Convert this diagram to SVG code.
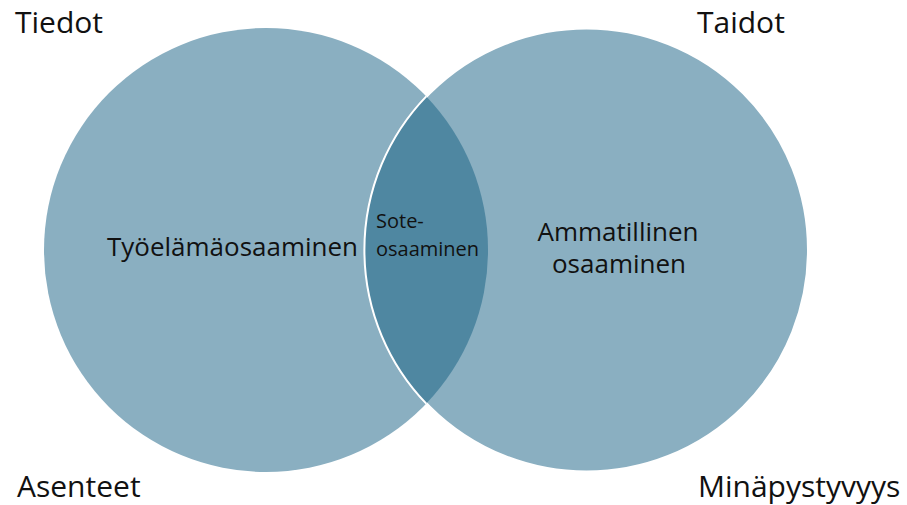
<svg xmlns="http://www.w3.org/2000/svg" width="907" height="505" viewBox="0 0 907 505">
<style>
.circ{fill:#8AAFC1}
.lens{fill:#4F87A1}
.t{font-family:"Open Sans","Liberation Sans",sans-serif;fill:#111}
.corner{font-size:30px}
.big{font-size:26px}
.small{font-size:20px}
</style>
<rect width="907" height="505" fill="#ffffff"/>
<g id="circle-tyoelama">
<circle class="circ" cx="266" cy="250" r="222"/>
</g>
<g id="circle-ammatillinen">
<circle class="circ" cx="586.5" cy="250" r="221.5" stroke="#ffffff" stroke-width="2"/>
</g>
<g id="overlap-sote">
<path class="lens" d="M426.3 96.4 A222 222 0 0 1 426.3 403.6 A221.5 221.5 0 0 1 426.3 96.4 Z"/>
<path d="M426.3 403.6 A221.5 221.5 0 0 1 426.3 96.4" fill="none" stroke="#ffffff" stroke-width="2"/>
</g>
<g id="label-tyoelama">
<text class="t big" x="107" y="256" textLength="251" lengthAdjust="spacingAndGlyphs">Työelämäosaaminen</text>
</g>
<g id="label-ammatillinen">
<text class="t big" x="618" y="241" text-anchor="middle">Ammatillinen</text>
<text class="t big" x="619" y="273" text-anchor="middle">osaaminen</text>
</g>
<g id="label-sote">
<text class="t small" x="376" y="228">Sote-</text>
<text class="t small" x="376" y="256">osaaminen</text>
</g>
<g id="corner-labels">
<text class="t corner" x="15" y="33">Tiedot</text>
<text class="t corner" x="697" y="33">Taidot</text>
<text class="t corner" x="17" y="497">Asenteet</text>
<text class="t corner" x="698" y="497">Minäpystyvyys</text>
</g>
</svg>
